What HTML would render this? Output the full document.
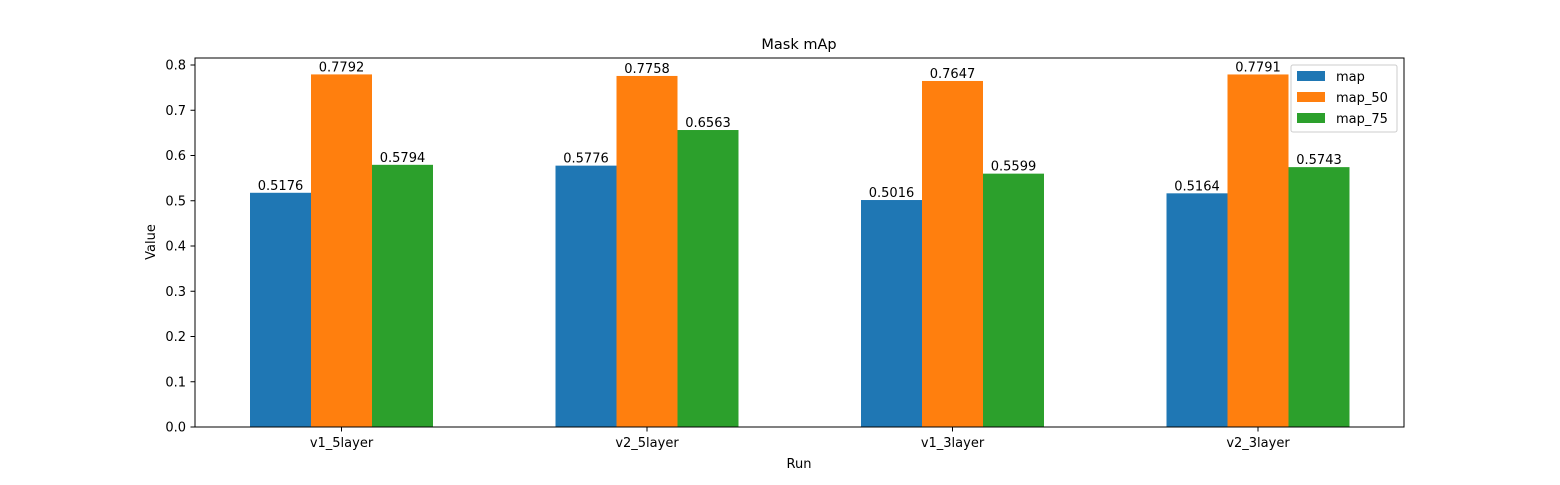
<!DOCTYPE html>
<html><head><meta charset="utf-8"><style>
body{margin:0;background:#fff;}
svg{font-family:"DejaVu Sans","Liberation Sans",sans-serif;}
</style></head><body>
<svg id="chart" width="1560" height="480" xmlns="http://www.w3.org/2000/svg">
<rect width="1560" height="480" fill="#fff"/>
<text x="799" y="49" font-size="14.5" text-anchor="middle">Mask mAp</text>
<g id="plot"></g>
<rect x="195" y="58" width="1209" height="369" fill="none" stroke="#000" stroke-width="1"/>
<text x="799" y="468" font-size="13" text-anchor="middle">Run</text>
<text x="155" y="242" font-size="13" text-anchor="middle" transform="rotate(-90 155 242)">Value</text>
<g>
<rect x="1291" y="65" width="106" height="67" fill="#fff" fill-opacity="0.8" stroke="#ccc" rx="2"/>
<rect x="1297" y="71" width="28" height="10" fill="#1f77b4"/>
<text x="1336" y="81" font-size="13">map</text>
<rect x="1297" y="92" width="28" height="10" fill="#ff7f0e"/>
<text x="1336" y="102" font-size="13">map_50</text>
<rect x="1297" y="113" width="28" height="10" fill="#2ca02c"/>
<text x="1336" y="123" font-size="13">map_75</text>
</g>
</svg>
<script>
const categories=["v1_5layer","v2_5layer","v1_3layer","v2_3layer"];
const mapVals=[0.5176,0.5776,0.5016,0.5164];
const map50Vals=[0.7792,0.7758,0.7647,0.7791];
const map75Vals=[0.5794,0.6563,0.5599,0.5743];
const yTicks=[0,0.1,0.2,0.3,0.4,0.5,0.6,0.7,0.8];
const NS="http://www.w3.org/2000/svg";
const g=document.getElementById('plot');
const y0=427,pxPer=452.5;
function y(v){return y0-v*pxPer;}
function x(i){return 341.5+i*305.5;}
const bw=61;
function mk(tag,attrs,txt){const e=document.createElementNS(NS,tag);for(const k in attrs)e.setAttribute(k,attrs[k]);if(txt!==undefined)e.textContent=txt;g.appendChild(e);return e;}
yTicks.forEach(t=>{
  const l=mk('line',{x1:190.5,x2:195,y1:y(t),y2:y(t),stroke:'#000'});
  
  
  const tx=mk('text',{x:186,y:y(t)+4.5,'font-size':13,'text-anchor':'end'},t.toFixed(1));
  
  
});
categories.forEach((c,i)=>{
  const l=mk('line',{x1:x(i),x2:x(i),y1:427,y2:431.5,stroke:'#000'});
  
  
  const tx=mk('text',{x:x(i),y:447,'font-size':13,'text-anchor':'middle'},c);
  
  
});
const series=[[mapVals,'#1f77b4','map',-1],[map50Vals,'#ff7f0e','map50',0],[map75Vals,'#2ca02c','map75',1]];
series.forEach(([vals,col,nm,off])=>{
  vals.forEach((v,i)=>{
    const cx=x(i)+off*bw;
    const r=mk('rect',{x:cx-bw/2,y:y(v),width:bw,height:y0-y(v),fill:col});
    
    
    const t=mk('text',{x:cx,y:y(v)-3,'font-size':13,'text-anchor':'middle'},v.toFixed(4));
    
    
  });
});
</script>
</body></html>
